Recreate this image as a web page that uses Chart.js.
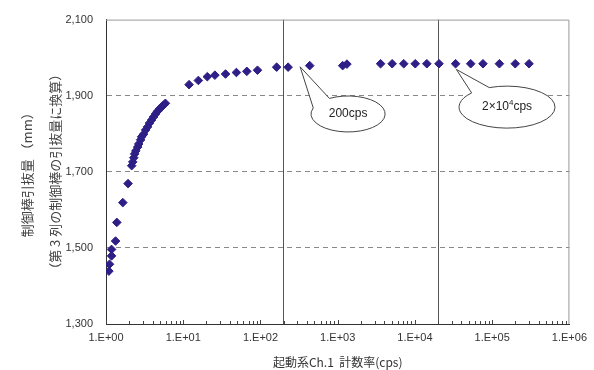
<!DOCTYPE html>
<html>
<head>
<meta charset="utf-8">
<script src="https://cdn.jsdelivr.net/npm/chart.js@4/dist/chart.umd.min.js"></script>
<style>
	html, body { margin: 0; padding: 0; background: #fff; }
	#wrap { width: 594px; height: 370px; }
</style>
</head>
<body>
<div id="wrap"><canvas id="rodChart" width="594" height="370"></canvas></div>
<script>
// Start-up channel count rate (cps) and rod withdrawal (mm)
const countRate = [
	1.09, 1.11, 1.18, 1.18, 1.33, 1.38, 1.65, 1.93, 2.15, 2.22,
	2.29, 2.35, 2.43, 2.57, 2.65, 2.81, 2.89, 3.07, 3.26, 3.45,
	3.66, 3.89, 4.12, 4.38, 4.64, 4.92, 5.22, 5.54, 5.87,
	11.9, 15.7, 20.5, 25.7, 35.3, 48.8, 66.6, 91.5, 162, 228,
	434, 1159, 1316, 3590, 5070, 7160, 10090, 14250, 20500, 33600,
	52700, 76000, 124000, 199000, 300000,
];
const rodPosition = [
	1439, 1457, 1479, 1496, 1518, 1567, 1619, 1669, 1716, 1726,
	1737, 1747, 1755, 1765, 1773, 1784, 1792, 1799, 1810, 1818,
	1828, 1836, 1844, 1852, 1859, 1865, 1870, 1875, 1880,
	1929, 1940, 1950, 1954, 1957, 1961, 1964, 1967, 1975, 1975,
	1979, 1979, 1983, 1984, 1984, 1984, 1984, 1984, 1984, 1984,
	1984, 1984, 1984, 1984, 1984,
];
const markerRates = [ 200, 20000 ];
const yTitle = [ '制御棒引抜量 （mm）', '（第 3 列の制御棒の引抜量に換算）' ];
const xTitle = '起動系Ch.1  計数率(cps)';

const tickFont = { family: '"Liberation Sans", Arial, sans-serif', size: 11 };
const jpFont = '"Noto Sans CJK JP", sans-serif';

// Small inward tick marks, plus top/right frame
const framePlugin = {
	id: 'frame',
	beforeDatasetsDraw( chart ) {
		const { ctx, chartArea: a, scales } = chart;
		ctx.save();
		ctx.strokeStyle = '#999';
		ctx.lineWidth = 1;
		ctx.beginPath();
		ctx.moveTo( a.left, a.top + 0.5 );
		ctx.lineTo( a.right - 0.5, a.top + 0.5 );
		ctx.lineTo( a.right - 0.5, a.bottom );
		ctx.stroke();

		ctx.strokeStyle = '#444';
		ctx.beginPath();
		for ( let e = 0; e < 6; e++ ) {
			for ( let m = 1; m <= 9; m++ ) {
				const x = Math.round( scales.x.getPixelForValue( m * Math.pow( 10, e ) ) ) + 0.5;
				ctx.moveTo( x, a.bottom );
				ctx.lineTo( x, a.bottom - ( m === 1 ? 4 : 3 ) );
			}
		}
		ctx.stroke();
		ctx.restore();
	},
};

// Speech-bubble labels pointing at the marked count rates
const calloutPlugin = {
	id: 'callouts',
	afterDatasetsDraw( chart ) {
		const { ctx, scales } = chart;
		const bubbles = [
			{ cx: 1364, cy: 1852, rx: 37, ry: 18, tx: 326, ty: 1976, a1: -2.8, a2: -2.1, parts: [ [ '200cps', 0 ] ] },
			{ cx: 155700, cy: 1870, rx: 48, ry: 21, tx: 34400, ty: 1969, a1: -2.4, a2: -1.95,
				parts: [ [ '2×10', 0 ], [ '4', 1 ], [ 'cps', 0 ] ] },
		];
		ctx.save();
		bubbles.forEach( ( b ) => {
			const cx = scales.x.getPixelForValue( b.cx );
			const cy = scales.y.getPixelForValue( b.cy );
			const tx = scales.x.getPixelForValue( b.tx );
			const ty = scales.y.getPixelForValue( b.ty );
			ctx.beginPath();
			ctx.moveTo( cx + b.rx * Math.cos( b.a1 ), cy + b.ry * Math.sin( b.a1 ) );
			ctx.lineTo( tx, ty );
			ctx.lineTo( cx + b.rx * Math.cos( b.a2 ), cy + b.ry * Math.sin( b.a2 ) );
			ctx.ellipse( cx, cy, b.rx, b.ry, 0, b.a2, b.a1 + 2 * Math.PI );
			ctx.closePath();
			ctx.fillStyle = '#fff';
			ctx.fill();
			ctx.strokeStyle = '#444';
			ctx.lineWidth = 1;
			ctx.stroke();

			// text, with an optional superscript piece
			ctx.fillStyle = '#222';
			ctx.textBaseline = 'middle';
			ctx.textAlign = 'left';
			const fontFor = ( sup ) => ( sup ? '8px ' : '12px ' ) + '"Liberation Sans", Arial, sans-serif';
			let total = 0;
			b.parts.forEach( ( [ t, sup ] ) => {
				ctx.font = fontFor( sup );
				total += ctx.measureText( t ).width;
			} );
			let x = cx - total / 2;
			b.parts.forEach( ( [ t, sup ] ) => {
				ctx.font = fontFor( sup );
				ctx.fillText( t, x, sup ? cy - 4 : cy );
				x += ctx.measureText( t ).width;
			} );
		} );
		ctx.restore();
	},
};

new Chart( document.getElementById( 'rodChart' ), {
	type: 'scatter',
	data: {
		datasets: [
			{
				data: countRate.map( ( x, i ) => ( { x, y: rodPosition[ i ] } ) ),
				pointStyle: 'rectRot',
				pointRadius: 4.3,
				backgroundColor: '#2e1f86',
				borderColor: '#2e1f86',
				borderWidth: 1,
			},
		],
	},
	options: {
		responsive: false,
		animation: false,
		layout: { padding: { top: 18, right: 20, left: 0, bottom: 0 } },
		plugins: {
			legend: { display: false },
			tooltip: { enabled: false },
		},
		scales: {
			x: {
				type: 'logarithmic',
				min: 1,
				max: 1e6,
				afterFit: ( scale ) => {
					scale.height = 46;
				},
				border: { color: '#333', width: 1 },
				grid: {
					drawTicks: false,
					color: ( c ) => ( c.tick && markerRates.includes( c.tick.value ) ? '#555' : 'rgba(0,0,0,0)' ),
				},
				ticks: {
					autoSkip: false,
					maxRotation: 0,
					padding: 7,
					color: '#333',
					font: tickFont,
					callback: ( value ) => {
						const e = Math.log10( value );
						if ( Math.abs( e - Math.round( e ) ) > 1e-9 ) {
							return '';
						}
						return '1.E+' + String( Math.round( e ) ).padStart( 2, '0' );
					},
				},
				title: {
					display: true,
					text: xTitle,
					color: '#333',
					font: { family: jpFont, size: 12 },
					padding: { top: 2, bottom: 0 },
				},
			},
			y: {
				min: 1300,
				max: 2100,
				afterFit: ( scale ) => {
					scale.width = 106;
				},
				// in v4 border.dash dashes the grid lines, the axis line stays solid
				border: { color: '#333', width: 1, dash: [ 5, 4 ] },
				grid: {
					drawTicks: false,
					color: ( c ) => ( c.tick && c.tick.value > 1300 && c.tick.value < 2100 ? '#888' : 'rgba(0,0,0,0)' ),
				},
				ticks: {
					stepSize: 200,
					padding: 13,
					color: '#333',
					font: tickFont,
					callback: ( value ) => value.toLocaleString( 'en-US' ),
				},
				title: {
					display: true,
					text: yTitle,
					color: '#444',
					font: { family: jpFont, size: 13, lineHeight: '28px' },
					padding: { top: 13, bottom: 0 },
				},
			},
		},
	},
	plugins: [ framePlugin, calloutPlugin ],
} );
</script>
</body>
</html>
